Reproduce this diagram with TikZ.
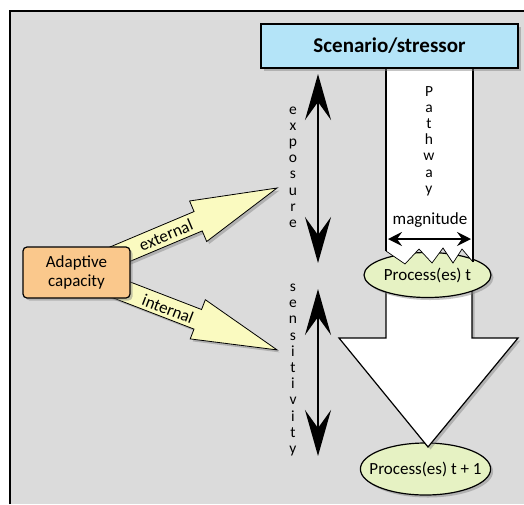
\documentclass[tikz,border=0pt]{standalone}
\usepackage{fontspec}
\setmainfont{Carlito}
\usepackage{tikz}
\usetikzlibrary{arrows.meta,shadows,shapes.geometric}
\definecolor{bggray}{RGB}{219,219,219}
\definecolor{skyblue}{RGB}{180,228,248}
\definecolor{peach}{RGB}{250,200,140}
\definecolor{paleyellow}{RGB}{250,250,192}
\definecolor{palegreen}{RGB}{230,242,195}

\begin{document}
\begin{tikzpicture}[x=1pt, y=-1pt,
  softshadow/.style={drop shadow={shadow xshift=2.5pt, shadow yshift=-2.5pt, opacity=0.45}},
  procnode/.style={ellipse, draw, line width=1.2pt, fill=palegreen, softshadow, inner sep=0pt, minimum width=127pt, font=\fontsize{17}{19}\selectfont},
  spine/.style={line width=2.8pt, {Stealth[length=46pt,width=26pt,inset=18pt]}-{Stealth[length=46pt,width=26pt,inset=18pt]}},
  vtext/.style={align=center, inner sep=0pt, font=\fontsize{15.5}{16.2}\selectfont},
  fatarrow/.style={draw, line width=0.8pt, fill=paleyellow, softshadow},
  armlabel/.style={font=\fontsize{17}{19}\selectfont, inner sep=0pt}
]
\useasboundingbox (0,0) rectangle (524,504);
\fill[white] (0,0) rectangle (524,504);
\fill[bggray] (10,11) rectangle (524,504);
\draw[line width=2pt] (10,504) -- (10,11) -- (524,11);

% processes and the big arrow
\node[procnode, inner xsep=-10pt, minimum height=52pt] (proc2) at (425.5,469) {Process(es) t + 1};
\draw[line width=1.2pt, fill=white, softshadow] (386,285) -- (386,338) -- (339,338) -- (428,447) -- (518,338) -- (472,338) -- (472,285) -- cycle;
\node[procnode, minimum height=45pt] (proc1) at (427.5,275) {Process(es) t};

% pathway
\fill[white] (386,67) -- (386,251) -- (405,264) -- (419,249) -- (432,263) -- (443,248) -- (453,263) -- (462,249) -- (473,262) -- (473,67) -- cycle;
\draw[line width=0.7pt] (386,251) -- (405,264) -- (419,249) -- (432,263) -- (443,248) -- (453,263) -- (462,249) -- (473,262);
\draw[line width=1.2pt] (386,67) -- (386,251);
\draw[line width=1.2pt] (473,67) -- (473,262);
\node[vtext] (pathway) at (429,141) {P\\a\\t\\h\\w\\a\\y};
\node[armlabel] (magn) at (430,220) {magnitude};
\coordinate (magn left) at (388,239);
\coordinate (magn right) at (471,239);
\draw[line width=1.8pt, {Stealth[length=14pt,width=14pt,inset=5pt]}-{Stealth[length=14pt,width=14pt,inset=5pt]}] (magn left) -- (magn right);

\node[draw, line width=2pt, fill=skyblue, softshadow, minimum width=257pt, minimum height=44pt, font=\fontsize{21}{25}\selectfont\bfseries] (scen) at (389.5,46) {Scenario/stressor};

% exposure and sensitivity
\coordinate (expo top) at (318,74);
\coordinate (expo bot) at (318,263);
\coordinate (sens top) at (318,289);
\coordinate (sens bot) at (318,456);
\draw[spine] (expo top) -- (expo bot);
\draw[spine] (sens top) -- (sens bot);
\node[vtext] (expo) at (293,167) {e\\x\\p\\o\\s\\u\\r\\e};
\node[vtext] (sens) at (293,370) {s\\e\\n\\s\\i\\t\\i\\v\\i\\t\\y};

% adaptive capacity
\coordinate (hub) at (76.5,272.5);
\begin{scope}[shift={(hub)}, rotate=22.85]
\draw[fatarrow] (0,-10.5) -- (132,-10.5) -- (132,-22) -- (217.6,0) -- (132,22) -- (132,10.5) -- (0,10.5) -- cycle;
\end{scope}
\begin{scope}[shift={(hub)}, rotate=-21.1]
\draw[fatarrow] (0,-10.5) -- (130,-10.5) -- (130,-21) -- (215,0) -- (130,21) -- (130,10.5) -- (0,10.5) -- cycle;
\end{scope}
\node[armlabel, rotate=22.85] (ext) at (166,235) {external};
\node[armlabel, rotate=-21.1] (int) at (168,309) {internal};
\node[draw, line width=1.2pt, rounded corners=4pt, fill=peach, softshadow, minimum width=107pt, minimum height=51pt, align=center, font=\fontsize{17}{19}\selectfont] (adapt) at (hub) {Adaptive\\capacity};

\end{tikzpicture}
\end{document}
